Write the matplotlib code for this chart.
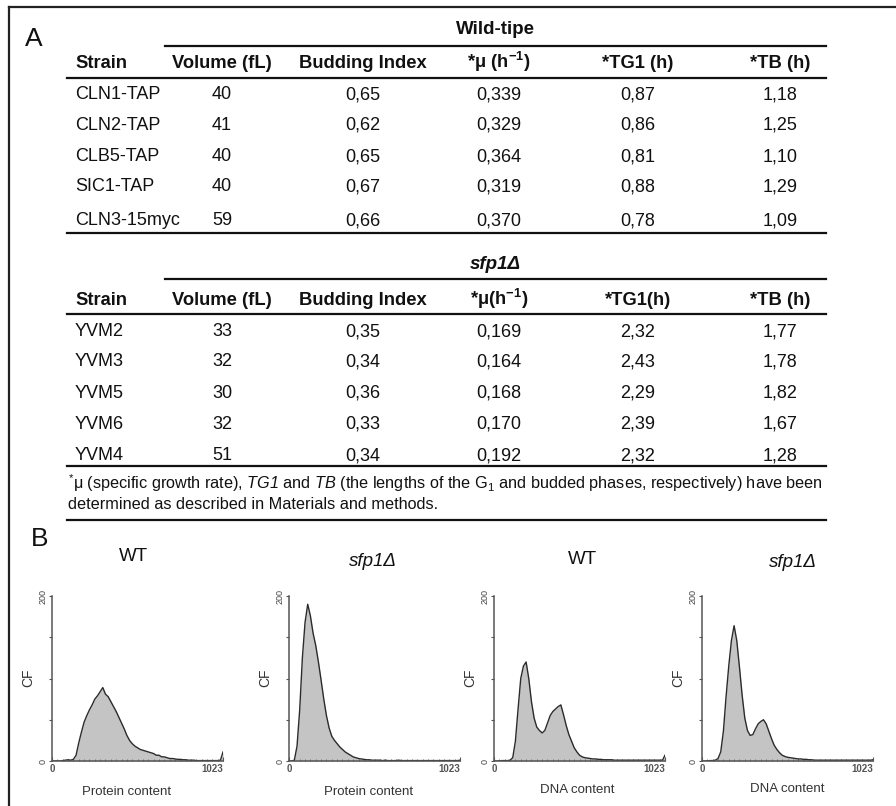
import numpy as np
import matplotlib
matplotlib.use("Agg")
import matplotlib.pyplot as plt
from matplotlib.lines import Line2D
from matplotlib.ticker import MultipleLocator

plt.rcParams['font.family'] = ['Liberation Sans', 'DejaVu Sans']
plt.rcParams['mathtext.fontset'] = 'custom'
plt.rcParams['mathtext.rm'] = 'Liberation Sans'
plt.rcParams['mathtext.it'] = 'Liberation Sans:italic'
plt.rcParams['mathtext.sf'] = 'Liberation Sans:italic'
plt.rcParams['mathtext.bf'] = 'Liberation Sans:bold'

# ---------------- data ----------------
wt_title = "Wild-tipe"
mut_title = "sfp1Δ"
headers_wt = ["Strain", "Volume (fL)", "Budding Index", r"*μ (h$^{\mathdefault{-1}}$)", "*TG1 (h)", "*TB (h)"]
headers_mut = ["Strain", "Volume (fL)", "Budding Index", r"*μ(h$^{\mathdefault{-1}}$)", "*TG1(h)", "*TB (h)"]

strains_wt = ["CLN1-TAP", "CLN2-TAP", "CLB5-TAP", "SIC1-TAP", "CLN3-15myc"]
volume_wt = [40, 41, 40, 40, 59]
budding_wt = [0.65, 0.62, 0.65, 0.67, 0.66]
mu_wt = [0.339, 0.329, 0.364, 0.319, 0.370]
tg1_wt = [0.87, 0.86, 0.81, 0.88, 0.78]
tb_wt = [1.18, 1.25, 1.10, 1.29, 1.09]

strains_mut = ["YVM2", "YVM3", "YVM5", "YVM6", "YVM4"]
volume_mut = [33, 32, 30, 32, 51]
budding_mut = [0.35, 0.34, 0.36, 0.33, 0.34]
mu_mut = [0.169, 0.164, 0.168, 0.170, 0.192]
tg1_mut = [2.32, 2.43, 2.29, 2.39, 2.32]
tb_mut = [1.77, 1.78, 1.82, 1.67, 1.28]

footnote_1 = (r"$^{*}$μ (specific growth rate), $\mathsf{TG1}$ and $\mathsf{TB}$ (the lengths of the "
              r"G$_{1}$ and budded phases, respectively) have been")
footnote_2 = "determined as described in Materials and methods."

panel_titles = ["WT", "sfp1Δ", "WT", "sfp1Δ"]
panel_italic = [False, True, False, True]
panel_xlabels = ["Protein content", "Protein content", "DNA content", "DNA content"]
y_label = "CF"

# channel positions 0,16,...,1008 and 1023 (65 points)
channels = np.append(np.arange(0, 1024, 16), 1023)
wt_protein = [0, 0, 0, 0, 0.5, 1, 1.5, 1, 2, 7, 22, 35, 47, 55, 62, 68,
              75, 79, 84, 89, 81, 78, 72, 66, 60, 53, 46, 39, 31, 25, 21, 18,
              16, 14, 13, 12, 11, 10, 9, 7, 7, 5, 5, 4, 3, 3, 2.5, 2,
              2, 1.5, 1.5, 1, 1, 1, 0.5, 0.5, 0.5, 0.5, 0.5, 0.5, 0.5, 0.5, 0.5, 1,
              11]
mut_protein = [0, 0, 1, 18, 62, 125, 168, 190, 176, 155, 140, 120, 98, 75, 55, 40,
               30, 25, 21, 17, 14, 11, 9, 7, 5, 4, 3, 2.5, 2, 1.5, 1.5, 1,
               1, 1, 1, 0.5, 1, 0.5, 0.5, 0.5, 0.5, 1, 0.5, 0.5, 0.5, 0.5, 0.5, 0.5,
               0.5, 0.5, 0.5, 0.5, 0.5, 0.5, 0.5, 0.5, 0.5, 0.5, 0.5, 0.5, 0.5, 0.5, 0.5, 0.5,
               1]
wt_dna = [0, 0, 0, 0.5, 0.5, 0.5, 1, 4, 24, 63, 100, 115, 120, 100, 72, 52,
          41, 37, 34, 37, 46, 55, 60, 63, 66, 68, 56, 43, 32, 24, 16, 11,
          7, 5, 4, 3.5, 3, 2.5, 2.5, 2, 2, 1.5, 1.5, 1.5, 1.5, 1, 1, 1,
          1, 1, 1, 1, 1, 1, 1, 1, 1, 1, 1, 1, 1, 1, 1, 1,
          7]
mut_dna = [0, 0, 0, 0.5, 0.5, 1, 3, 11, 36, 78, 115, 146, 164, 146, 114, 80,
           52, 37, 31, 32, 39, 45, 48, 50, 45, 36, 27, 19, 14, 10, 7, 5.5,
           4.5, 4, 3.5, 3, 2.5, 2.5, 2, 2, 1.5, 1.5, 1, 1, 1, 1, 1, 1,
           1, 1, 1, 1, 1, 1, 1, 1, 1, 1, 1, 1, 1, 1, 1, 1,
           1.5]
histograms = [wt_protein, mut_protein, wt_dna, mut_dna]

# ---------------- layout ----------------
W, H = 896, 806
fig = plt.figure(figsize=(W / 100, H / 100), dpi=100)

def fx(x):
    return x / W

def fy(y):
    return 1 - y / H

def hline(y, x0, x1, lw=1.6, color="#111111"):
    fig.add_artist(Line2D([fx(x0), fx(x1)], [fy(y), fy(y)], lw=lw, color=color))

def fmt(v, d):
    return f"{v:.{d}f}".replace(".", ",")

# frame
fig.add_artist(Line2D([fx(9), fx(896)], [fy(7), fy(7)], lw=1.6, color="#222222"))
fig.add_artist(Line2D([fx(9), fx(9)], [fy(7), fy(806)], lw=1.6, color="#222222"))

fig.text(fx(25), fy(46), "A", fontsize=19, ha="left", va="baseline", color="#111")
fig.text(fx(31), fy(546), "B", fontsize=19, ha="left", va="baseline", color="#111")

col_x = [75, 222, 363, 499, 638, 780]
TXT = 13
HDR = 13.2

def table(title, title_style, title_y, group_line_y, header_y, header_line_y,
          headers, rows_y, strains, vols, buds, mus, tg1s, tbs):
    fig.text(fx(495), fy(title_y), title, fontsize=13.5, fontweight="bold",
             fontstyle=title_style, ha="center", va="baseline", color="#111")
    hline(group_line_y, 165, 826)
    for i, h in enumerate(headers):
        fig.text(fx(col_x[i]), fy(header_y), h, fontsize=HDR, fontweight="bold",
                 ha="left" if i == 0 else "center", va="baseline", color="#111")
    hline(header_line_y, 67, 826)
    for j, y in enumerate(rows_y):
        vals = [strains[j], str(vols[j]), fmt(buds[j], 2), fmt(mus[j], 3),
                fmt(tg1s[j], 2), fmt(tbs[j], 2)]
        for i, v in enumerate(vals):
            fig.text(fx(col_x[i]), fy(y), v, fontsize=TXT,
                     ha="left" if i == 0 else "center", va="baseline", color="#111")

table(wt_title, "normal", 34, 46, 68.5, 78, headers_wt,
      [99, 130, 161, 191, 225],
      strains_wt, volume_wt, budding_wt, mu_wt, tg1_wt, tb_wt)
hline(233, 67, 826)
table(mut_title, "italic", 269, 279, 304.5, 314, headers_mut,
      [336.5, 366.5, 397.5, 428.5, 460.5],
      strains_mut, volume_mut, budding_mut, mu_mut, tg1_mut, tb_mut)
hline(466, 67, 826)

fig.text(fx(68), fy(489), footnote_1, fontsize=11.7, ha="left", va="baseline", color="#111")
fig.text(fx(68), fy(509), footnote_2, fontsize=11.7, ha="left", va="baseline", color="#111")
hline(520, 67, 826)

# ---------------- histograms ----------------
axes_x = [52, 289, 494, 702]
title_pos = [(133, 561), (373, 566), (582, 564), (793, 567)]
xlabel_pos = [(127, 795), (369, 795), (577, 793), (787, 792)]
ax_top, ax_bot, ax_w = 596, 761, 171

for k in range(4):
    x0 = axes_x[k]
    ax = fig.add_axes([fx(x0), fy(ax_bot), ax_w / W, (ax_bot - ax_top) / H])
    ax.fill_between(channels, histograms[k], 0, color="#c4c4c4", lw=0)
    ax.plot(channels, histograms[k], color="#2b2b2b", lw=1.0)
    ax.set_xlim(0, 1023)
    ax.set_ylim(0, 200)
    for s in ("top", "right"):
        ax.spines[s].set_visible(False)
    for s in ("left", "bottom"):
        ax.spines[s].set_color("#555555")
        ax.spines[s].set_linewidth(1.1)
    ax.set_yticks([0, 50, 100, 150, 200])
    ax.set_yticklabels(["0", "", "", "", "200"], rotation=90, va="center",
                       fontsize=6.5, color="#444444")
    ax.tick_params(axis="y", length=2, width=0.8, pad=1, color="#555555", direction="out")
    ax.set_xticks([0, 1023])
    lbls = ax.set_xticklabels(["0", "1023"], fontsize=7, fontweight="bold", color="#555555")
    lbls[1].set_ha("right")
    ax.xaxis.set_minor_locator(MultipleLocator(32))
    ax.tick_params(axis="x", which="major", length=3, width=0.8, pad=2,
                   color="#555555", direction="in")
    ax.tick_params(axis="x", which="minor", length=1.5, width=0.6,
                   color="#666666", direction="in")
    ax.patch.set_alpha(0)

    fig.text(fx(x0 - 24), fy(678), y_label, rotation=90, fontsize=10,
             ha="center", va="center", color="#333333")
    tx, ty = title_pos[k]
    fig.text(fx(tx), fy(ty), panel_titles[k], fontsize=13.5,
             fontstyle="italic" if panel_italic[k] else "normal",
             ha="center", va="baseline", color="#111")
    lx, ly = xlabel_pos[k]
    fig.text(fx(lx), fy(ly), panel_xlabels[k], fontsize=9.5,
             ha="center", va="baseline", color="#333333")

fig.savefig("out.png", dpi=100)
